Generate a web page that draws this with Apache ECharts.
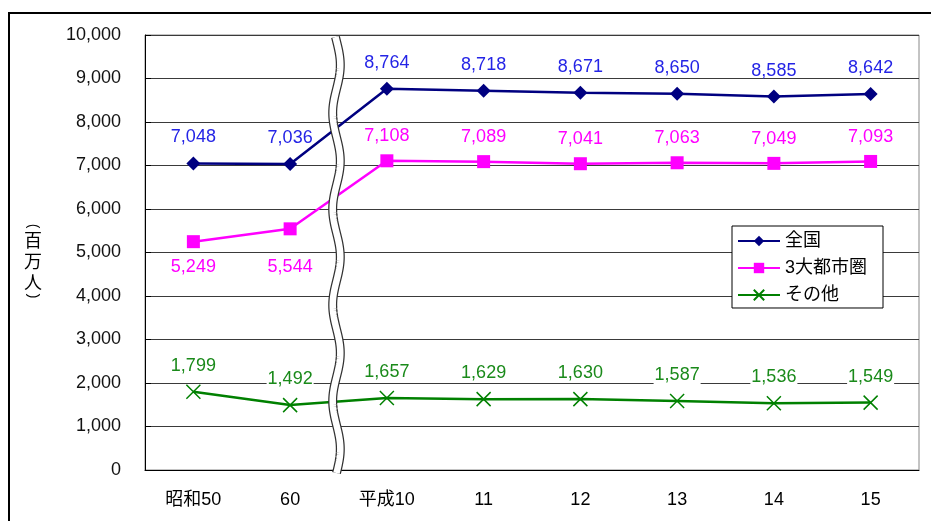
<!DOCTYPE html>
<html>
<head>
<meta charset="utf-8">
<script src="https://cdn.jsdelivr.net/npm/echarts@6/dist/echarts.min.js"></script>
<style>
  html, body { margin: 0; padding: 0; background: #fff; }
  #chart { width: 931px; height: 521px; }
</style>
</head>
<body>
<div id="chart"></div>
<script>
// Year categories (Showa / Heisei eras)
const categories = ['昭和50', '60', '平成10', '11', '12', '13', '14', '15'];
// Values in millions of persons
const national = [7048, 7036, 8764, 8718, 8671, 8650, 8585, 8642];
const metro3 = [5249, 5544, 7108, 7089, 7041, 7063, 7049, 7093];
const others = [1799, 1492, 1657, 1629, 1630, 1587, 1536, 1549];
const seriesNames = ['全国', '3大都市圏', 'その他'];
const yTicks = { min: 0, max: 10000, interval: 1000 };

const FONT = '"Liberation Sans", "Noto Sans CJK JP", sans-serif';
const CJK = '"Noto Sans CJK JP", sans-serif';
const fmt = v => v.toLocaleString('en-US');

const chart = echarts.init(document.getElementById('chart'));

const labelBase = {
  show: true,
  fontFamily: FONT,
  fontSize: 18,
  formatter: p => fmt(p.value)
};

// The first two metro points carry their labels underneath the marker
const metroData = metro3.map((v, i) => (i < 2
  ? { value: v, label: { position: 'bottom', distance: i === 0 ? 10 : 23 } }
  : v));

chart.setOption({
  animation: false,
  backgroundColor: '#fff',
  grid: {
    left: 145, top: 35, right: 12, bottom: 51,
    show: true, borderColor: '#888', borderWidth: 1, containLabel: false
  },
  legend: {
    orient: 'vertical',
    left: 732, top: 226,
    backgroundColor: '#fff',
    borderColor: '#000', borderWidth: 1,
    padding: [6, 16, 4, 5],
    itemGap: 9,
    itemWidth: 42, itemHeight: 13,
    textStyle: { fontFamily: FONT, fontSize: 18, color: '#000' },
    data: seriesNames
  },
  xAxis: {
    type: 'category',
    data: categories,
    boundaryGap: true,
    axisLine: { lineStyle: { color: '#000', width: 1 } },
    axisTick: { inside: true, length: 6, lineStyle: { color: '#000' } },
    axisLabel: { fontFamily: FONT, fontSize: 18, color: '#000', margin: 21 }
  },
  yAxis: {
    type: 'value',
    min: yTicks.min, max: yTicks.max, interval: yTicks.interval,
    axisLine: { show: true, lineStyle: { color: '#000' } },
    axisTick: { show: true, inside: true, length: 6, lineStyle: { color: '#000' } },
    splitLine: { lineStyle: { color: '#3a3a3a', width: 1 } },
    axisLabel: { fontFamily: FONT, fontSize: 18, color: '#111', margin: 24, formatter: v => fmt(v) }
  },
  series: [
    {
      name: seriesNames[0], type: 'line', data: national,
      symbol: 'diamond', symbolSize: 14,
      lineStyle: { color: '#000080', width: 2.5 },
      itemStyle: { color: '#000080' },
      label: Object.assign({}, labelBase, { position: 'top', distance: 10, color: '#2424e6' }),
      z: 3
    },
    {
      name: seriesNames[1], type: 'line', data: metroData,
      symbol: 'rect', symbolSize: 13,
      lineStyle: { color: '#ff00ff', width: 2.5 },
      itemStyle: { color: '#ff00ff' },
      label: Object.assign({}, labelBase, { color: '#ff00ff', position: 'top', distance: 9 }),
      z: 3
    },
    {
      name: seriesNames[2], type: 'line', data: others,
      symbol: 'path://M0,0L10,10M10,0L0,10', symbolSize: 14,
      lineStyle: { color: '#008000', width: 2.5 },
      itemStyle: { color: 'rgba(0,0,0,0)', borderColor: '#008000', borderWidth: 1.5 },
      label: Object.assign({}, labelBase, {
        position: 'top', distance: 9, color: '#1a8a1a',
        backgroundColor: '#fff', padding: [0, 1]
      }),
      z: 3
    }
  ]
});

// Axis-break symbol between 60 and 平成10: a white wavy band outlined in grey
function drawBreak() {
  const a = chart.convertToPixel({ gridIndex: 0 }, [1, 0]);
  const b = chart.convertToPixel({ gridIndex: 0 }, [2, 0]);
  const cx = (a[0] + b[0]) / 2 - 2;
  const yTop = 37, yBot = 474;
  const pts = [];
  for (let y = yTop; y <= yBot; y += 2) {
    pts.push([cx + 3.8 * Math.sin((y - 257) / 96 * 2 * Math.PI + Math.PI / 2), y]);
  }
  // parentheses turned a quarter clockwise for vertical writing
  const paren = (ch, y) => ({
    type: 'text', z: 102, silent: true,
    x: 33, y: y, rotation: -Math.PI / 2,
    style: {
      text: ch, fontFamily: '"Liberation Sans", sans-serif', fontSize: 14,
      fill: '#000', align: 'center', verticalAlign: 'middle'
    }
  });
  chart.setOption({
    graphic: [
      {
        type: 'polyline', z: 100, silent: true,
        shape: { points: pts },
        style: { stroke: '#333', lineWidth: 9, fill: null }
      },
      {
        type: 'polyline', z: 101, silent: true,
        shape: { points: pts },
        style: { stroke: '#fff', lineWidth: 6.5, fill: null }
      },
      {
        // outer frame of the figure
        type: 'rect', z: 102, silent: true,
        shape: { x: 9, y: 13, width: 1000, height: 1000 },
        style: { stroke: '#000', lineWidth: 2, fill: null }
      },
      {
        // vertical unit caption
        type: 'text', z: 102, silent: true,
        x: 33, y: 261,
        style: {
          text: '百\n万\n人',
          fontFamily: CJK, fontSize: 18, lineHeight: 21,
          fill: '#000', align: 'center', verticalAlign: 'middle'
        }
      },
      paren('(', 226),
      paren(')', 296)
    ]
  });
}
drawBreak();
</script>
</body>
</html>
